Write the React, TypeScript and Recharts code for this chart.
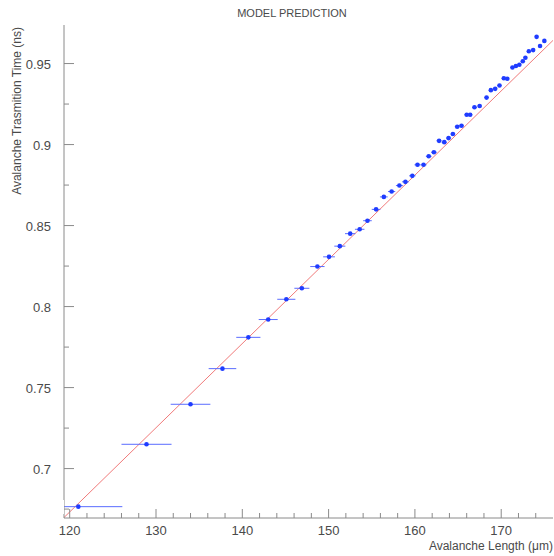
import { ScatterChart, Scatter, XAxis, YAxis, ErrorBar, ReferenceLine } from 'recharts'

// avalanche length (um), transmission time (ns), horizontal error (um)
const xValues = [121.0, 128.9, 134.0, 137.7, 140.7, 143.0, 145.1, 146.9, 148.7, 150.05, 151.3, 152.5, 153.6, 154.5, 155.5, 156.4, 157.3, 158.2, 158.9, 159.7, 160.3, 161.0, 161.6, 162.2, 162.8, 163.4, 163.9, 164.4, 164.9, 165.4, 166.0, 166.4, 166.9, 167.5, 168.3, 168.8, 169.3, 169.8, 170.3, 170.7, 171.3, 171.7, 172.1, 172.5, 172.8, 173.2, 173.7, 174.1, 174.5, 175.0]
const yValues = [0.6765, 0.715, 0.7397, 0.7617, 0.781, 0.792, 0.8045, 0.8113, 0.8247, 0.8307, 0.8373, 0.845, 0.8477, 0.853, 0.86, 0.8677, 0.871, 0.8747, 0.877, 0.8807, 0.8875, 0.8875, 0.8928, 0.8953, 0.9023, 0.9015, 0.904, 0.9065, 0.911, 0.9116, 0.9184, 0.9184, 0.923, 0.9238, 0.929, 0.9336, 0.9344, 0.9365, 0.9409, 0.9406, 0.9476, 0.9485, 0.9493, 0.9514, 0.9536, 0.9576, 0.9583, 0.9665, 0.9608, 0.964]
const xErrors = [5.1, 2.9, 2.3, 1.6, 1.4, 1.1, 1.05, 0.87, 0.83, 0.68, 0.64, 0.6, 0.55, 0.5, 0.5, 0.45, 0.42, 0.4, 0.4, 0.38, 0.35, 0.35, 0.33, 0.32, 0.3, 0.3, 0.3, 0.28, 0.28, 0.27, 0.27, 0.26, 0.25, 0.25, 0.24, 0.24, 0.23, 0.23, 0.22, 0.22, 0.22, 0.21, 0.21, 0.2, 0.2, 0.2, 0.2, 0.19, 0.19, 0.19]

// model line end points
const fitX = [119.34, 176.0]
const fitY = [0.6698, 0.9643]

const xTicks = [120, 122, 124, 126, 128, 130, 132, 134, 136, 138, 140, 142, 144, 146, 148, 150, 152, 154, 156, 158, 160, 162, 164, 166, 168, 170, 172, 174]
const xLabels = [120, 130, 140, 150, 160, 170]
const yTicks = [0.675, 0.7, 0.725, 0.75, 0.775, 0.8, 0.825, 0.85, 0.875, 0.9, 0.925, 0.95]
const yLabels = [0.7, 0.75, 0.8, 0.85, 0.9, 0.95]

const X_DOMAIN: [number, number] = [119.34, 176]
const Y_DOMAIN: [number, number] = [0.6695, 0.9738]

const points = xValues.map((x, i) => ({ x, y: yValues[i], ex: xErrors[i] }))

const FONT = '"Liberation Sans", Arial, sans-serif'
const AXIS = '#8a8a8a'
const TEXT = '#4a4a4a'

const XTick = (props: any) => {
  const { x, y, payload } = props
  const major = xLabels.includes(payload.value)
  return (
    <g>
      <line x1={x} x2={x} y1={y} y2={y - (major ? 9 : 5)} stroke={AXIS} />
      {major && (
        <text x={x} y={y + 17} textAnchor="middle" fontSize={13} fontFamily={FONT} fill={TEXT}>
          {payload.value}
        </text>
      )}
    </g>
  )
}

const YTick = (props: any) => {
  const { x, y, payload } = props
  const major = yLabels.includes(payload.value)
  return (
    <g>
      <line x1={x} x2={x + (major ? 10 : 5)} y1={y} y2={y} stroke={AXIS} />
      {major && (
        <text x={x - 13} y={y + 5} textAnchor="end" fontSize={13} fontFamily={FONT} fill={TEXT}>
          {payload.value}
        </text>
      )}
    </g>
  )
}

const Dot = (props: any) => <circle cx={props.cx} cy={props.cy} r={2.3} fill="#1f3cff" />

export default function App() {
  return (
    <div style={{ position: 'absolute', left: 0, top: 0, width: 554, height: 556, background: '#fff' }}>
      <ScatterChart width={554} height={556} margin={{ top: 25, right: 1, bottom: 0, left: 0 }}>
        <XAxis
          type="number"
          dataKey="x"
          domain={X_DOMAIN}
          allowDataOverflow
          ticks={xTicks}
          interval={0}
          tick={<XTick />}
          tickLine={false}
          tickSize={0}
          tickMargin={0}
          height={38}
          axisLine={{ stroke: AXIS }}
        />
        <XAxis
          xAxisId="top"
          orientation="top"
          type="number"
          domain={X_DOMAIN}
          height={0}
          tick={false}
          tickLine={false}
          axisLine={{ stroke: AXIS }}
        />
        <YAxis
          type="number"
          dataKey="y"
          domain={Y_DOMAIN}
          allowDataOverflow
          ticks={yTicks}
          interval={0}
          tick={<YTick />}
          tickLine={false}
          tickSize={0}
          tickMargin={0}
          width={64}
          axisLine={{ stroke: AXIS }}
        />
        <ReferenceLine
          segment={[{ x: fitX[0], y: fitY[0] }, { x: fitX[1], y: fitY[1] }]}
          stroke="#f07a7a"
          strokeWidth={1}
          ifOverflow="hidden"
        />
        <Scatter data={points} shape={<Dot />} isAnimationActive={false}>
          <ErrorBar dataKey="ex" direction="x" width={0} stroke="#5a6cff" strokeWidth={1} isAnimationActive={false} />
        </Scatter>
      </ScatterChart>
      {/* hide the part of the first error bar that runs past the frame */}
      <div style={{ position: 'absolute', left: 0, top: 500, width: 63.5, height: 14, background: '#fff' }} />
      <div style={{ position: 'absolute', left: 0, width: 584, top: 7, textAlign: 'center', fontFamily: FONT, fontSize: 11, color: TEXT }}>
        MODEL PREDICTION
      </div>
      <div style={{ position: 'absolute', right: 1, top: 539, fontFamily: FONT, fontSize: 12, color: TEXT, whiteSpace: 'nowrap' }}>
        Avalanche Length (μm)
      </div>
      <div
        style={{
          position: 'absolute',
          left: 10,
          top: 27,
          transform: 'rotate(-90deg) translateX(-100%)',
          transformOrigin: '0 0',
          fontFamily: FONT,
          fontSize: 12,
          lineHeight: '14px',
          color: TEXT,
          whiteSpace: 'nowrap',
        }}
      >
        Avalanche Trasmition Time (ns)
      </div>
    </div>
  )
}
